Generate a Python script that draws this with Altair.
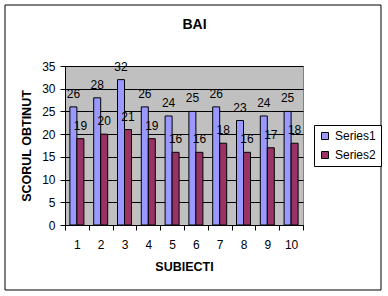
import altair as alt
import pandas as pd

title_text = ["BAI"]
subjects = [1, 2, 3, 4, 5, 6, 7, 8, 9, 10]
series1 = [26, 28, 32, 26, 24, 25, 26, 23, 24, 25]
series2 = [19, 20, 21, 19, 16, 16, 18, 16, 17, 18]
series_names = ["Series1", "Series2"]
colors = ["#9999FF", "#993366"]
y_ticks = [0, 5, 10, 15, 20, 25, 30, 35]

rows = []
for s, a, b in zip(subjects, series1, series2):
    rows.append({"subject": s, "series": "Series1", "value": a})
    rows.append({"subject": s, "series": "Series2", "value": b})
df = pd.DataFrame(rows)

FONT = "Liberation Sans"

base = alt.Chart(df).encode(
    x=alt.X(
        "subject:O",
        scale=alt.Scale(domain=subjects, paddingInner=0, paddingOuter=0),
        axis=alt.Axis(
            title="SUBIECTI",
            labelAngle=0,
            tickBand="extent",
            tickSize=5,
            labelPadding=9,
            titlePadding=10,
            domainColor="black",
            tickColor="black",
            labelColor="black",
            labelFontSize=12,
            labelFont=FONT,
            titleFont=FONT,
            titleFontSize=12.5,
            titleFontWeight="bold",
            titleColor="black",
            grid=False,
        ),
    ),
    xOffset=alt.XOffset(
        "series:N",
        scale=alt.Scale(domain=series_names, paddingInner=0, paddingOuter=0.7),
    ),
    y=alt.Y(
        "value:Q",
        scale=alt.Scale(domain=[0, 35], nice=False),
        axis=alt.Axis(
            title="SCORUL OBTINUT",
            values=y_ticks,
            tickSize=5,
            labelPadding=5,
            titlePadding=8,
            grid=True,
            gridColor="black",
            gridOpacity=1,
            domainColor="black",
            tickColor="black",
            labelColor="black",
            labelFontSize=12,
            labelFont=FONT,
            titleFont=FONT,
            titleFontSize=12.5,
            titleFontWeight="bold",
            titleColor="black",
        ),
    ),
)

bars = base.mark_bar(stroke="black", strokeWidth=1).encode(
    color=alt.Color(
        "series:N",
        scale=alt.Scale(domain=series_names, range=colors),
        legend=alt.Legend(
            title=None,
            orient="none",
            legendX=249,
            legendY=59,
            strokeColor="black",
            fillColor="white",
            padding=5,
            rowPadding=7,
            symbolType="square",
            symbolSize=49,
            symbolStrokeColor="black",
            symbolStrokeWidth=1,
            symbolOpacity=1,
            labelFontSize=12,
            labelFont=FONT,
            labelColor="black",
            labelOffset=4,
        ),
    )
)

labels = base.mark_text(
    baseline="alphabetic", dy=-9, fontSize=12, font=FONT, color="black"
).encode(text="value:Q")

frame = alt.Chart(pd.DataFrame({"k": [0]})).mark_rect(
    fill="transparent", stroke="black", strokeWidth=1
).encode(
    x=alt.value(-60), x2=alt.value(316), y=alt.value(-61), y2=alt.value(224)
)

title = alt.Chart(pd.DataFrame({"t": title_text})).mark_text(
    font=FONT, fontSize=14, fontWeight="bold", color="black",
    baseline="alphabetic", align="center"
).encode(text="t:N", x=alt.value(129.5), y=alt.value(-37))

chart = (
    alt.layer(frame, bars, labels, title)
    .properties(
        width=238,
        height=159,
        autosize=alt.AutoSizeParams(type="none"),
        padding={"left": 65, "top": 66, "right": 85, "bottom": 71},
        background="white",
    )
    .configure_view(fill="#C0C0C0", stroke="#808080", strokeWidth=1)
)

chart.save("out.html", embed_options={"renderer": "svg", "actions": False})
